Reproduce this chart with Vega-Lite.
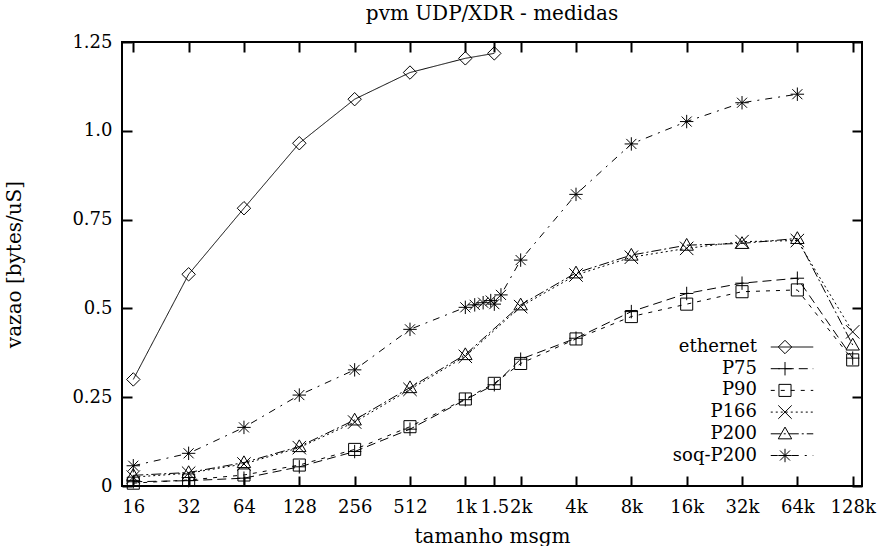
{
  "$schema": "https://vega.github.io/schema/vega-lite/v6.json",
  "width": 740,
  "height": 444,
  "autosize": {"type": "none"},
  "padding": {"left": 122, "top": 42, "right": 15, "bottom": 60},
  "background": "white",
  "title": {"text": "pvm UDP/XDR - medidas", "fontSize": 20, "font": "DejaVu Serif", "fontWeight": "normal", "anchor": "middle", "offset": 9, "color": "black"},
  "config": {
    "font": "DejaVu Serif",
    "view": {"stroke": "black", "strokeWidth": 2},
    "axis": {
      "labelFont": "DejaVu Serif", "labelFontSize": 18, "labelColor": "black",
      "titleFont": "DejaVu Serif", "titleFontSize": 20, "titleFontWeight": "normal", "titleColor": "black",
      "tickColor": "black", "tickWidth": 2, "tickSize": -10, "labelPadding": 20,
      "domain": false, "grid": false, "labelOverlap": false, "labelFlush": false, "labelBound": false
    },
    "legend": {"labelFont": "DejaVu Serif", "labelFontSize": 18, "labelColor": "black"}
  },
  "data": {"values": [
    {"serie": "ethernet", "tam": 16, "vazao": 0.300},
    {"serie": "ethernet", "tam": 32, "vazao": 0.596},
    {"serie": "ethernet", "tam": 64, "vazao": 0.782},
    {"serie": "ethernet", "tam": 128, "vazao": 0.965},
    {"serie": "ethernet", "tam": 256, "vazao": 1.089},
    {"serie": "ethernet", "tam": 512, "vazao": 1.164},
    {"serie": "ethernet", "tam": 1024, "vazao": 1.204},
    {"serie": "ethernet", "tam": 1472, "vazao": 1.218},

    {"serie": "P75", "tam": 16, "vazao": 0.012},
    {"serie": "P75", "tam": 32, "vazao": 0.015},
    {"serie": "P75", "tam": 64, "vazao": 0.022},
    {"serie": "P75", "tam": 128, "vazao": 0.054},
    {"serie": "P75", "tam": 256, "vazao": 0.097},
    {"serie": "P75", "tam": 512, "vazao": 0.160},
    {"serie": "P75", "tam": 1024, "vazao": 0.243},
    {"serie": "P75", "tam": 1472, "vazao": 0.285},
    {"serie": "P75", "tam": 2048, "vazao": 0.357},
    {"serie": "P75", "tam": 4096, "vazao": 0.416},
    {"serie": "P75", "tam": 8192, "vazao": 0.491},
    {"serie": "P75", "tam": 16384, "vazao": 0.542},
    {"serie": "P75", "tam": 32768, "vazao": 0.571},
    {"serie": "P75", "tam": 65536, "vazao": 0.585},
    {"serie": "P75", "tam": 131072, "vazao": 0.360},

    {"serie": "P90", "tam": 16, "vazao": 0.008},
    {"serie": "P90", "tam": 32, "vazao": 0.017},
    {"serie": "P90", "tam": 64, "vazao": 0.031},
    {"serie": "P90", "tam": 128, "vazao": 0.059},
    {"serie": "P90", "tam": 256, "vazao": 0.103},
    {"serie": "P90", "tam": 512, "vazao": 0.167},
    {"serie": "P90", "tam": 1024, "vazao": 0.245},
    {"serie": "P90", "tam": 1472, "vazao": 0.289},
    {"serie": "P90", "tam": 2048, "vazao": 0.345},
    {"serie": "P90", "tam": 4096, "vazao": 0.414},
    {"serie": "P90", "tam": 8192, "vazao": 0.477},
    {"serie": "P90", "tam": 16384, "vazao": 0.512},
    {"serie": "P90", "tam": 32768, "vazao": 0.547},
    {"serie": "P90", "tam": 65536, "vazao": 0.552},
    {"serie": "P90", "tam": 131072, "vazao": 0.355},

    {"serie": "P166", "tam": 16, "vazao": 0.025},
    {"serie": "P166", "tam": 32, "vazao": 0.036},
    {"serie": "P166", "tam": 64, "vazao": 0.062},
    {"serie": "P166", "tam": 128, "vazao": 0.108},
    {"serie": "P166", "tam": 256, "vazao": 0.180},
    {"serie": "P166", "tam": 512, "vazao": 0.272},
    {"serie": "P166", "tam": 1024, "vazao": 0.365},
    {"serie": "P166", "tam": 2048, "vazao": 0.505},
    {"serie": "P166", "tam": 4096, "vazao": 0.594},
    {"serie": "P166", "tam": 8192, "vazao": 0.644},
    {"serie": "P166", "tam": 16384, "vazao": 0.669},
    {"serie": "P166", "tam": 32768, "vazao": 0.688},
    {"serie": "P166", "tam": 65536, "vazao": 0.691},
    {"serie": "P166", "tam": 131072, "vazao": 0.434},

    {"serie": "P200", "tam": 16, "vazao": 0.030},
    {"serie": "P200", "tam": 32, "vazao": 0.038},
    {"serie": "P200", "tam": 64, "vazao": 0.066},
    {"serie": "P200", "tam": 128, "vazao": 0.111},
    {"serie": "P200", "tam": 256, "vazao": 0.186},
    {"serie": "P200", "tam": 512, "vazao": 0.277},
    {"serie": "P200", "tam": 1024, "vazao": 0.370},
    {"serie": "P200", "tam": 2048, "vazao": 0.510},
    {"serie": "P200", "tam": 4096, "vazao": 0.600},
    {"serie": "P200", "tam": 8192, "vazao": 0.650},
    {"serie": "P200", "tam": 16384, "vazao": 0.678},
    {"serie": "P200", "tam": 32768, "vazao": 0.683},
    {"serie": "P200", "tam": 65536, "vazao": 0.697},
    {"serie": "P200", "tam": 131072, "vazao": 0.397},

    {"serie": "soq-P200", "tam": 16, "vazao": 0.057},
    {"serie": "soq-P200", "tam": 32, "vazao": 0.092},
    {"serie": "soq-P200", "tam": 64, "vazao": 0.165},
    {"serie": "soq-P200", "tam": 128, "vazao": 0.256},
    {"serie": "soq-P200", "tam": 256, "vazao": 0.327},
    {"serie": "soq-P200", "tam": 512, "vazao": 0.441},
    {"serie": "soq-P200", "tam": 1024, "vazao": 0.503},
    {"serie": "soq-P200", "tam": 1152, "vazao": 0.510},
    {"serie": "soq-P200", "tam": 1280, "vazao": 0.516},
    {"serie": "soq-P200", "tam": 1408, "vazao": 0.522},
    {"serie": "soq-P200", "tam": 1472, "vazao": 0.512},
    {"serie": "soq-P200", "tam": 1600, "vazao": 0.538},
    {"serie": "soq-P200", "tam": 2048, "vazao": 0.636},
    {"serie": "soq-P200", "tam": 4096, "vazao": 0.821},
    {"serie": "soq-P200", "tam": 8192, "vazao": 0.963},
    {"serie": "soq-P200", "tam": 16384, "vazao": 1.026},
    {"serie": "soq-P200", "tam": 32768, "vazao": 1.079},
    {"serie": "soq-P200", "tam": 65536, "vazao": 1.103}
  ]},
  "layer": [
    {
      "mark": {"type": "line", "stroke": "black", "strokeWidth": 1},
      "encoding": {
        "x": {
          "field": "tam", "type": "quantitative",
          "scale": {"type": "log", "base": 2, "domain": [13.89, 147270], "nice": false},
          "axis": {
            "orient": "bottom", "title": "tamanho msgm", "titlePadding": 10, "labelPadding": 22,
            "values": [16, 32, 64, 128, 256, 512, 1024, 1472, 2048, 4096, 8192, 16384, 32768, 65536, 131072],
            "labelExpr": "datum.value == 1472 ? '1.5' : (datum.value >= 1024 ? (datum.value / 1024) + 'k' : '' + datum.value)"
          }
        },
        "y": {
          "field": "vazao", "type": "quantitative",
          "scale": {"domain": [0, 1.25], "nice": false, "zero": true},
          "axis": {
            "orient": "left", "title": "vazao [bytes/uS]", "titlePadding": 47,
            "values": [0, 0.25, 0.5, 0.75, 1, 1.25],
            "labelExpr": "datum.value == 0 ? '0' : (datum.value == 0.5 ? '0.5' : (datum.value == 1 ? '1.0' : format(datum.value, '.2f')))"
          }
        },
        "strokeDash": {
          "field": "serie", "type": "nominal",
          "scale": {
            "domain": ["ethernet", "P75", "P90", "P166", "P200", "soq-P200"],
            "range": [[1, 0], [9, 5], [4, 6], [2, 3], [10, 3, 2, 3], [7, 6, 2, 6]]
          },
          "legend": {
            "orient": "none", "legendX": 661, "legendY": 296,
            "title": null, "padding": 0,
            "symbolType": "M-2.5,0L2.5,0", "symbolSize": 289, "symbolStrokeWidth": 1, "symbolStrokeColor": "black",
            "labelAlign": "right", "labelOffset": -44, "rowPadding": 3.7
          }
        }
      }
    },
    {
      "mark": {"type": "point", "filled": false, "stroke": "black", "strokeWidth": 1, "size": 180, "opacity": 1},
      "encoding": {
        "x": {"field": "tam", "type": "quantitative", "axis": null},
        "y": {"field": "vazao", "type": "quantitative", "axis": null},
        "shape": {
          "field": "serie", "type": "nominal",
          "sort": ["ethernet", "P75", "P90", "P166", "P200", "soq-P200"],
          "scale": {
            "range": [
              "M0,-1L1,0L0,1L-1,0Z",
              "M-1,0L1,0M0,-1L0,1",
              "M-0.9,-0.9L0.9,-0.9L0.9,0.9L-0.9,0.9Z",
              "M-1,-1L1,1M-1,1L1,-1",
              "M0,-1L1,0.75L-1,0.75Z",
              "M-1,0L1,0M0,-1L0,1M-0.75,-0.75L0.75,0.75M-0.75,0.75L0.75,-0.75"
            ]
          },
          "legend": {
            "orient": "none", "legendX": 661, "legendY": 296,
            "title": null, "padding": 0,
            "symbolSize": 180, "symbolStrokeWidth": 1, "symbolStrokeColor": "black", "symbolFillColor": "white",
            "labelAlign": "right", "labelOffset": -44, "symbolOffset": -7, "labelOpacity": 0,
            "labelExpr": "''", "rowPadding": 3.7
          }
        }
      }
    },
    {
      "mark": {"type": "point", "opacity": 0},
      "encoding": {
        "x": {"field": "tam", "type": "quantitative",
          "axis": {"orient": "top", "labels": false, "title": null,
            "values": [16, 32, 64, 128, 256, 512, 1024, 1472, 2048, 4096, 8192, 16384, 32768, 65536, 131072]}},
        "y": {"field": "vazao", "type": "quantitative",
          "axis": {"orient": "right", "labels": false, "title": null, "values": [0, 0.25, 0.5, 0.75, 1, 1.25]}}
      }
    }
  ],
  "resolve": {"axis": {"x": "independent", "y": "independent"}}
}
